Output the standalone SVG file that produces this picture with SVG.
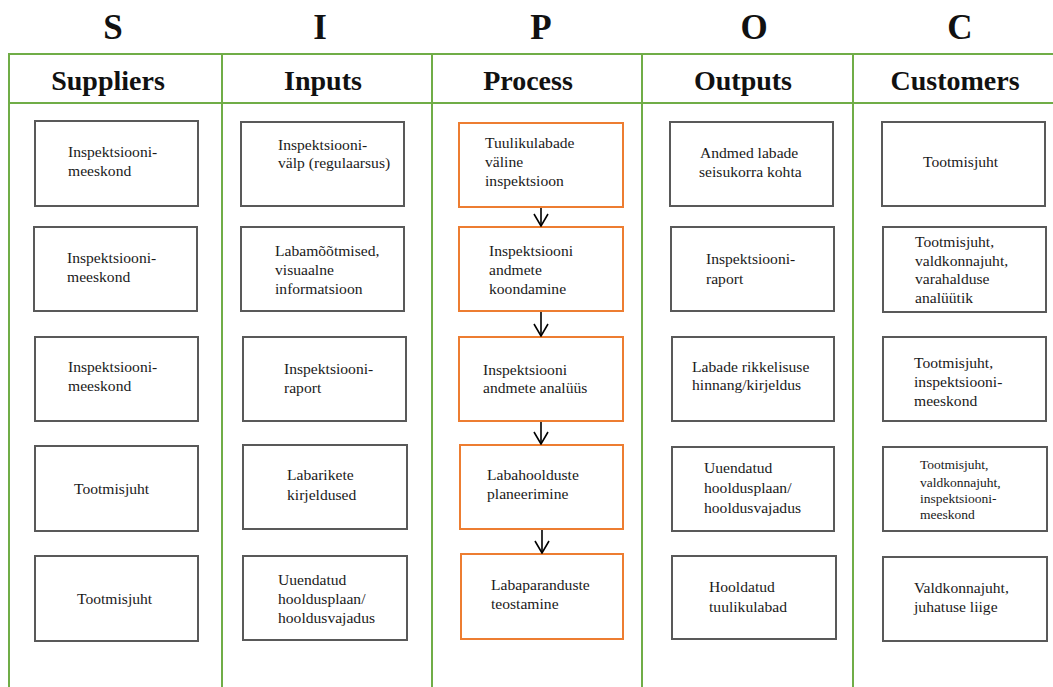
<svg xmlns="http://www.w3.org/2000/svg" width="1053" height="687" viewBox="0 0 1053 687">
  <style>
    .grid { stroke: #70AD47; stroke-width: 2; fill: none; }
    .letter { font-family: 'Liberation Serif', 'DejaVu Serif', 'Noto Serif', serif; font-weight: bold; font-size: 35px; fill: #111; text-anchor: middle; }
    .head { font-family: 'Liberation Serif', 'DejaVu Serif', 'Noto Serif', serif; font-weight: bold; font-size: 28px; fill: #111; text-anchor: middle; }
    .box { fill: #fff; stroke: #595959; stroke-width: 2; }
    .pbox { fill: #fff; stroke: #ED7D31; stroke-width: 2; }
    .t { font-family: 'Liberation Serif', 'DejaVu Serif', 'Noto Serif', serif; font-size: 15.6px; fill: #1a1a1a; }
    .ts { font-family: 'Liberation Serif', 'DejaVu Serif', 'Noto Serif', serif; font-size: 13.5px; fill: #1a1a1a; }
    .flow { stroke: #000; stroke-width: 1.6; fill: none; }
  </style>
  <defs>
    <marker id="chevron" markerUnits="userSpaceOnUse" markerWidth="14" markerHeight="16" viewBox="0 0 14 16" refX="13" refY="8" orient="auto">
      <path d="M1,1 L13,8 L1,15" fill="none" stroke="#000" stroke-width="1.6"/>
    </marker>
  </defs>

  <rect width="1053" height="687" fill="#fff"/>

  <!-- SIPOC letters -->
  <g id="letters">
    <text class="letter" x="113" y="39">S</text>
    <text class="letter" x="320" y="39">I</text>
    <text class="letter" x="541" y="39">P</text>
    <text class="letter" x="754" y="39">O</text>
    <text class="letter" x="960" y="39">C</text>
  </g>

  <!-- table grid -->
  <g id="grid">
    <line class="grid" x1="9" y1="54" x2="1053" y2="54"/>
    <line class="grid" x1="9" y1="103" x2="1053" y2="103"/>
    <line class="grid" x1="9" y1="53" x2="9" y2="687"/>
    <line class="grid" x1="222" y1="53" x2="222" y2="687"/>
    <line class="grid" x1="432" y1="53" x2="432" y2="687"/>
    <line class="grid" x1="642" y1="53" x2="642" y2="687"/>
    <line class="grid" x1="853" y1="53" x2="853" y2="687"/>
  </g>

  <!-- column headers -->
  <g id="headers">
    <text class="head" x="108" y="90">Suppliers</text>
    <text class="head" x="323" y="90">Inputs</text>
    <text class="head" x="528" y="90">Process</text>
    <text class="head" x="743" y="90">Outputs</text>
    <text class="head" x="955" y="90">Customers</text>
  </g>

  <!-- Suppliers -->
  <g id="s1"><rect class="box" x="35" y="121" width="163" height="85"/>
    <text class="t" x="68" y="157">Inspektsiooni-</text><text class="t" x="68" y="176">meeskond</text></g>
  <g id="s2"><rect class="box" x="34" y="227" width="163" height="84"/>
    <text class="t" x="67" y="263">Inspektsiooni-</text><text class="t" x="67" y="282">meeskond</text></g>
  <g id="s3"><rect class="box" x="35" y="337" width="163" height="84"/>
    <text class="t" x="68" y="372">Inspektsiooni-</text><text class="t" x="68" y="391">meeskond</text></g>
  <g id="s4"><rect class="box" x="35" y="446" width="163" height="85"/>
    <text class="t" x="74" y="494">Tootmisjuht</text></g>
  <g id="s5"><rect class="box" x="35" y="556" width="163" height="85"/>
    <text class="t" x="77" y="604">Tootmisjuht</text></g>

  <!-- Inputs -->
  <g id="i1"><rect class="box" x="241" y="122" width="163" height="84"/>
    <text class="t" x="278" y="150">Inspektsiooni-</text><text class="t" x="278" y="168">välp (regulaarsus)</text></g>
  <g id="i2"><rect class="box" x="241" y="227" width="163" height="84"/>
    <text class="t" x="275" y="256">Labamõõtmised,</text><text class="t" x="275" y="275">visuaalne</text><text class="t" x="275" y="294">informatsioon</text></g>
  <g id="i3"><rect class="box" x="243" y="337" width="163" height="84"/>
    <text class="t" x="284" y="374">Inspektsiooni-</text><text class="t" x="284" y="393">raport</text></g>
  <g id="i4"><rect class="box" x="243" y="445" width="164" height="84"/>
    <text class="t" x="287" y="480">Labarikete</text><text class="t" x="287" y="500">kirjeldused</text></g>
  <g id="i5"><rect class="box" x="243" y="556" width="164" height="84"/>
    <text class="t" x="278" y="585">Uuendatud</text><text class="t" x="278" y="604">hooldusplaan/</text><text class="t" x="278" y="623">hooldusvajadus</text></g>

  <!-- Process -->
  <g id="p1"><rect class="pbox" x="459" y="123" width="164" height="84"/>
    <text class="t" x="485" y="148">Tuulikulabade</text><text class="t" x="485" y="167">väline</text><text class="t" x="485" y="186">inspektsioon</text></g>
  <g id="p2"><rect class="pbox" x="459" y="227" width="164" height="84"/>
    <text class="t" x="489" y="256">Inspektsiooni</text><text class="t" x="489" y="275">andmete</text><text class="t" x="489" y="294">koondamine</text></g>
  <g id="p3"><rect class="pbox" x="459" y="337" width="164" height="84"/>
    <text class="t" x="483" y="375">Inspektsiooni</text><text class="t" x="483" y="393">andmete analüüs</text></g>
  <g id="p4"><rect class="pbox" x="460" y="445" width="163" height="84"/>
    <text class="t" x="487" y="480">Labahoolduste</text><text class="t" x="487" y="499">planeerimine</text></g>
  <g id="p5"><rect class="pbox" x="461" y="554" width="162" height="85"/>
    <text class="t" x="491" y="590">Labaparanduste</text><text class="t" x="491" y="609">teostamine</text></g>

  <!-- Outputs -->
  <g id="o1"><rect class="box" x="670" y="122" width="163" height="84"/>
    <text class="t" x="700" y="158">Andmed labade</text><text class="t" x="699" y="177">seisukorra kohta</text></g>
  <g id="o2"><rect class="box" x="671" y="227" width="163" height="84"/>
    <text class="t" x="706" y="264">Inspektsiooni-</text><text class="t" x="706" y="284">raport</text></g>
  <g id="o3"><rect class="box" x="672" y="337" width="162" height="84"/>
    <text class="t" x="692" y="372">Labade rikkelisuse</text><text class="t" x="692" y="390">hinnang/kirjeldus</text></g>
  <g id="o4"><rect class="box" x="672" y="447" width="162" height="84"/>
    <text class="t" x="704" y="473">Uuendatud</text><text class="t" x="704" y="493">hooldusplaan/</text><text class="t" x="704" y="513">hooldusvajadus</text></g>
  <g id="o5"><rect class="box" x="672" y="556" width="164" height="83"/>
    <text class="t" x="709" y="592">Hooldatud</text><text class="t" x="709" y="612">tuulikulabad</text></g>

  <!-- Customers -->
  <g id="c1"><rect class="box" x="882" y="122" width="163" height="84"/>
    <text class="t" x="923" y="167">Tootmisjuht</text></g>
  <g id="c2"><rect class="box" x="883" y="227" width="163" height="85"/>
    <text class="t" x="915" y="247">Tootmisjuht,</text><text class="t" x="915" y="266">valdkonnajuht,</text><text class="t" x="915" y="284">varahalduse</text><text class="t" x="915" y="303">analüütik</text></g>
  <g id="c3"><rect class="box" x="883" y="337" width="163" height="84"/>
    <text class="t" x="914" y="368">Tootmisjuht,</text><text class="t" x="914" y="387">inspektsiooni-</text><text class="t" x="914" y="406">meeskond</text></g>
  <g id="c4"><rect class="box" x="883" y="447" width="164" height="84"/>
    <text class="ts" x="920" y="469">Tootmisjuht,</text><text class="ts" x="920" y="487">valdkonnajuht,</text><text class="ts" x="920" y="503">inspektsiooni-</text><text class="ts" x="920" y="519">meeskond</text></g>
  <g id="c5"><rect class="box" x="883" y="557" width="164" height="84"/>
    <text class="t" x="914" y="593">Valdkonnajuht,</text><text class="t" x="914" y="612">juhatuse liige</text></g>

  <!-- process flow connectors -->
  <g id="connectors">
    <line class="flow" x1="541" y1="208" x2="541" y2="226" marker-end="url(#chevron)"/>
    <line class="flow" x1="541" y1="312" x2="541" y2="336" marker-end="url(#chevron)"/>
    <line class="flow" x1="541" y1="422" x2="541" y2="444" marker-end="url(#chevron)"/>
    <line class="flow" x1="542" y1="530" x2="542" y2="553" marker-end="url(#chevron)"/>
  </g>
</svg>
